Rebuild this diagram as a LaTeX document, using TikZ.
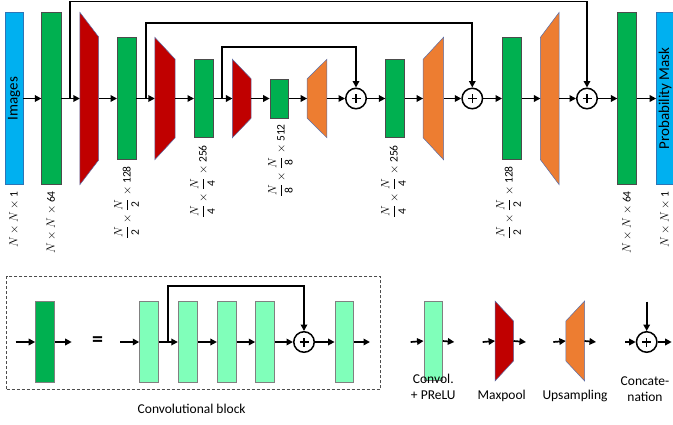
\documentclass[tikz,border=0pt]{standalone}
\usepackage{fontspec}
\setmainfont{Carlito}
\usetikzlibrary{arrows.meta}
\definecolor{cblue}{HTML}{00B0F0}
\definecolor{cblueb}{HTML}{2E75B6}
\definecolor{cgreen}{HTML}{00B050}
\definecolor{cred}{HTML}{C00000}
\definecolor{corange}{HTML}{ED7D31}
\definecolor{ctrapb}{HTML}{5B6FA8}
\definecolor{clight}{HTML}{80FFBA}
\newcommand\pooltrap[2]{\filldraw[poolshape] (#1.north west) -- ([yshift=-#2]#1.north east) -- ([yshift=#2]#1.south east) -- (#1.south west) -- cycle;}
\newcommand\uptrap[2]{\filldraw[upshape] ([yshift=-#2]#1.north west) -- (#1.north east) -- (#1.south east) -- ([yshift=#2]#1.south west) -- cycle;}
\newcommand\fr[1]{\displaystyle\frac{N}{\mbox{#1}}}
\begin{document}
\begin{tikzpicture}[x=1pt,y=-1pt,
  bluebox/.style={draw=cblueb, line width=0.6pt, fill=cblue, inner sep=0pt},
  gbox/.style={draw=black!70, line width=0.6pt, fill=cgreen, inner sep=0pt},
  lbox/.style={draw=black!50, line width=0.9pt, fill=clight, inner sep=0pt},
  trapbox/.style={inner sep=0pt},
  poolshape/.style={fill=cred, draw=ctrapb, line width=0.5pt},
  upshape/.style={fill=corange, draw=ctrapb, line width=0.5pt},
  arr/.style={line width=1.7pt, -{Triangle[length=6.5pt,width=6.5pt]}},
  plusnode/.style={circle, draw, line width=1.5pt, minimum size=20.5pt, inner sep=0pt, fill=white,
    path picture={\draw[line width=1.2pt] ([xshift=-4.5pt]path picture bounding box.center) -- ([xshift=4.5pt]path picture bounding box.center) ([yshift=-4.5pt]path picture bounding box.center) -- ([yshift=4.5pt]path picture bounding box.center);}},
  dimlab/.style={rotate=90, anchor=east, inner sep=0pt, font=\fontsize{11.5}{13}\selectfont},
  leglab/.style={anchor=base, inner sep=0pt, font=\fontsize{13.5}{15.7}\selectfont, align=center}
]
\useasboundingbox (0,0) rectangle (673,424);

% ---------- top row ----------
\node[bluebox, minimum width=18pt, minimum height=172pt] (img) at (14,98.5) {};
\node[rotate=90, font=\fontsize{15}{15}\selectfont] (imgt) at (14,98.5) {Images};
\node[gbox, minimum width=19.3pt, minimum height=172pt] (g1) at (51.3,98.5) {};
\node[trapbox, minimum width=18.3pt, minimum height=172pt] (r1) at (89.2,98.5) {};
\pooltrap{r1}{24.5pt}
\node[gbox, minimum width=18.7pt, minimum height=122pt] (g2) at (126.7,98.5) {};
\node[trapbox, minimum width=20pt, minimum height=122pt] (r2) at (165,98.5) {};
\pooltrap{r2}{22pt}
\node[gbox, minimum width=19pt, minimum height=78pt] (g3) at (203.8,98.5) {};
\node[trapbox, minimum width=18.3pt, minimum height=78pt] (r3) at (241.8,98.5) {};
\pooltrap{r3}{19.5pt}
\node[gbox, minimum width=18.7pt, minimum height=39pt] (g4) at (279.3,98.5) {};
\node[trapbox, minimum width=19.3pt, minimum height=78pt] (o1) at (317,98.5) {};
\uptrap{o1}{19.5pt}
\node[plusnode] (p1) at (356,98.5) {};
\node[gbox, minimum width=18.7pt, minimum height=78pt] (g5) at (395,98.5) {};
\node[trapbox, minimum width=20pt, minimum height=122pt] (o2) at (433.3,98.5) {};
\uptrap{o2}{22pt}
\node[plusnode] (p2) at (472.3,98.5) {};
\node[gbox, minimum width=19.3pt, minimum height=122pt] (g6) at (512,98.5) {};
\node[trapbox, minimum width=18.3pt, minimum height=172pt] (o3) at (549.8,98.5) {};
\uptrap{o3}{25pt}
\node[plusnode] (p3) at (587,98.5) {};
\node[gbox, minimum width=19pt, minimum height=172pt] (g7) at (627.2,98.5) {};
\node[bluebox, minimum width=17pt, minimum height=172pt] (pm) at (665,98.5) {};
\node[rotate=90, font=\fontsize{15}{15}\selectfont] (pmt) at (665,98.5) {Probability Mask};

% main line arrows
\draw[arr] (img.east) -- (g1.west);
\draw[arr] (g1.east) -- (r1.west);
\draw[arr] (r1.east) -- (g2.west);
\draw[arr] (g2.east) -- (r2.west);
\draw[arr] (r2.east) -- (g3.west);
\draw[arr] (g3.east) -- (r3.west);
\draw[arr] (r3.east) -- (g4.west);
\draw[arr] (g4.east) -- (o1.west);
\draw[arr] (o1.east) -- (p1.west);
\draw[arr] (p1.east) -- (g5.west);
\draw[arr] (g5.east) -- (o2.west);
\draw[arr] (o2.east) -- (p2.west);
\draw[arr] (p2.east) -- (g6.west);
\draw[arr] (g6.east) -- (o3.west);
\draw[arr] (o3.east) -- (p3.west);
\draw[arr] (p3.east) -- (g7.west);
\draw[arr] (g7.east) -- (pm.west);

% skip connections
\coordinate (s1a) at (69.7,98.5);
\coordinate (s1b) at (69.7,1.6);
\coordinate (s2a) at (145.7,98.5);
\coordinate (s2b) at (145.7,23.3);
\coordinate (s3a) at (222,98.5);
\coordinate (s3b) at (222,47);
\draw[arr] (s1a) -- (s1b) -| (p3.north);
\draw[arr] (s2a) -- (s2b) -| (p2.north);
\draw[arr] (s3a) -- (s3b) -| (p1.north);

% dimension labels
\node[dimlab] (d1) at (14,191) {$N\times N\times\mbox{1}$};
\node[dimlab] (d2) at (51.3,191) {$N\times N\times\mbox{64}$};
\node[dimlab] (d3) at (126.5,166) {$\fr{2}\times\fr{2}\times\mbox{128}$};
\node[dimlab] (d4) at (202.5,145) {$\fr{4}\times\fr{4}\times\mbox{256}$};
\node[dimlab] (d5) at (280.5,124) {$\fr{8}\times\fr{8}\times\mbox{512}$};
\node[dimlab] (d6) at (393.5,145) {$\fr{4}\times\fr{4}\times\mbox{256}$};
\node[dimlab] (d7) at (508.5,166) {$\fr{2}\times\fr{2}\times\mbox{128}$};
\node[dimlab] (d8) at (627,191) {$N\times N\times\mbox{64}$};
\node[dimlab] (d9) at (665,191) {$N\times N\times\mbox{1}$};

% ---------- bottom: convolutional block ----------
\node[draw=black!70, dashed, dash pattern=on 3pt off 2pt, line width=0.7pt, minimum width=374pt, minimum height=112.6pt, inner sep=0pt] (frame) at (193.7,333) {};
\node[leglab] (fl) at (191.7,413.3) {Convolutional block};

\coordinate (in0) at (15.7,342);
\coordinate (out0) at (71.7,342);
\node[gbox, draw=black!50, line width=0.9pt, minimum width=18.7pt, minimum height=80.6pt] (dg) at (45,342) {};
\draw[arr] (in0) -- (dg.west);
\draw[arr] (dg.east) -- (out0);
\node[font=\fontsize{22}{22}\selectfont\bfseries, inner sep=0pt] (eq) at (97.7,342) {=};

\coordinate (in1) at (120,342);
\coordinate (out1) at (370,342);
\node[lbox, minimum width=18.6pt, minimum height=80.6pt] (c1) at (149,342) {};
\node[lbox, minimum width=19pt, minimum height=80.6pt] (c2) at (187.8,342) {};
\node[lbox, minimum width=18.7pt, minimum height=80.6pt] (c3) at (226.7,342) {};
\node[lbox, minimum width=19pt, minimum height=80.6pt] (c4) at (265.2,342) {};
\node[plusnode] (pc) at (304,342) {};
\node[lbox, minimum width=18.3pt, minimum height=80.6pt] (c5) at (344.2,342) {};
\draw[arr] (in1) -- (c1.west);
\draw[arr] (c1.east) -- (c2.west);
\draw[arr] (c2.east) -- (c3.west);
\draw[arr] (c3.east) -- (c4.west);
\draw[arr] (c4.east) -- (pc.west);
\draw[arr] (pc.east) -- (c5.west);
\draw[arr] (c5.east) -- (out1);
\coordinate (sca) at (168.3,342);
\coordinate (scb) at (168.3,286);
\draw[arr] (sca) -- (scb) -| (pc.north);

% ---------- legend ----------
\coordinate (la1) at (410.7,342);
\coordinate (la2) at (454.3,342);
\node[lbox, minimum width=18.3pt, minimum height=79.5pt] (lc) at (433.2,341) {};
\draw[arr] (la1) -- (lc.west);
\draw[arr] (lc.east) -- (la2);
\node[leglab] (lct) at (433.3,399.3) {Convol.\\+ PReLU};

\coordinate (lb1) at (482.7,342);
\coordinate (lb2) at (526,342);
\node[trapbox, minimum width=18pt, minimum height=79.5pt] (lp) at (504.3,341) {};
\pooltrap{lp}{20pt}
\draw[arr] (lb1) -- (lp.west);
\draw[arr] (lp.east) -- (lb2);
\node[leglab] (lpt) at (501.7,399.3) {Maxpool};

\coordinate (lu1) at (553.3,342);
\coordinate (lu2) at (596,342);
\node[trapbox, minimum width=18.3pt, minimum height=79.5pt] (lu) at (575.2,341) {};
\uptrap{lu}{20pt}
\draw[arr] (lu1) -- (lu.west);
\draw[arr] (lu.east) -- (lu2);
\node[leglab] (lut) at (575,399.3) {Upsampling};

\coordinate (lx0) at (646.7,301.7);
\coordinate (lx1) at (625,342);
\coordinate (lx2) at (671.7,342);
\node[plusnode] (lx) at (646.7,342) {};
\draw[arr] (lx0) -- (lx.north);
\draw[arr] (lx1) -- (lx.west);
\draw[arr] (lx.east) -- (lx2);
\node[leglab] (lxt) at (645,401.5) {Concate-\\nation};
\end{tikzpicture}
\end{document}
